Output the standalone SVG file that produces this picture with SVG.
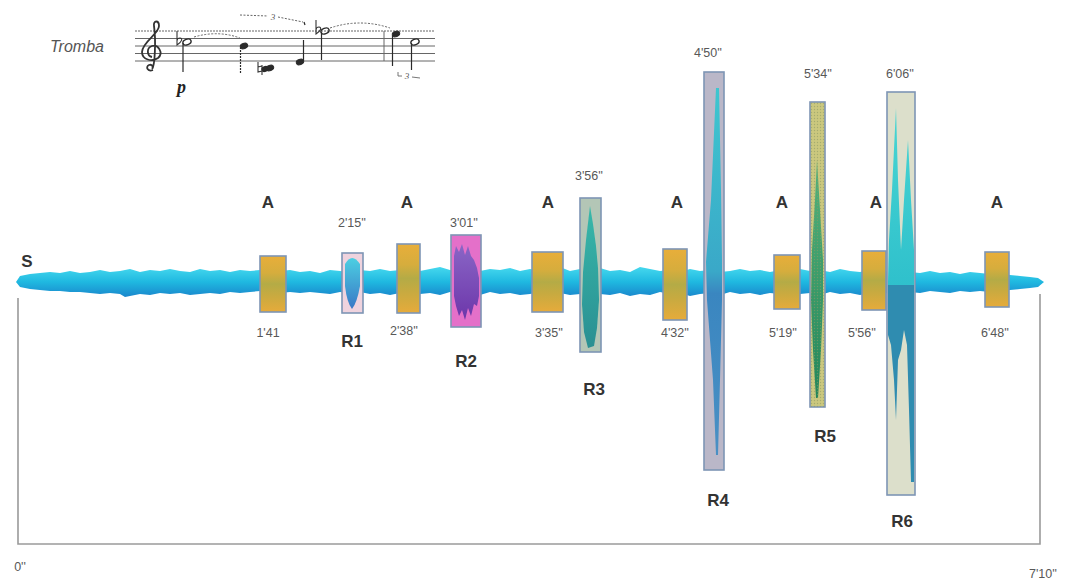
<svg xmlns="http://www.w3.org/2000/svg" width="1065" height="579" viewBox="0 0 1065 579">
  <defs>
    <style>
      .lbl { font-family: "Liberation Sans", Arial, sans-serif; font-weight: bold; font-size: 17px; fill: #333; text-anchor: middle; }
      .time { font-family: "Liberation Sans", Arial, sans-serif; font-size: 12.5px; fill: #585858; text-anchor: middle; }
      .box { stroke: #7e95b5; stroke-width: 1.6; }
      .staff { stroke: #666; stroke-width: 1; fill: none; }
      .ink { fill: #2a2a2a; stroke: #2a2a2a; }
      .stem { stroke: #2a2a2a; stroke-width: 1.2; }
      .slur { stroke: #666; stroke-width: 1; fill: none; stroke-dasharray: 2 1.5; }
      .axis { stroke: #9a9a9a; stroke-width: 1.6; fill: none; }
      .acc { fill: none; stroke: #333; stroke-width: 1.1; }
    </style>
    <linearGradient id="wave" x1="0" y1="0" x2="0" y2="1">
      <stop offset="0" stop-color="#45d8ee"/>
      <stop offset="0.5" stop-color="#1fb8e0"/>
      <stop offset="1" stop-color="#1a86cc"/>
    </linearGradient>
    <linearGradient id="gold" x1="0" y1="0" x2="0" y2="1">
      <stop offset="0" stop-color="#e8ae3a"/>
      <stop offset="0.3" stop-color="#d6ad3d"/>
      <stop offset="0.5" stop-color="#b4ab46"/>
      <stop offset="0.7" stop-color="#c8aa40"/>
      <stop offset="1" stop-color="#e6ab3b"/>
    </linearGradient>
    <linearGradient id="r1blob" x1="0" y1="0" x2="0" y2="1">
      <stop offset="0" stop-color="#4ccfe2"/>
      <stop offset="1" stop-color="#3a78c6"/>
    </linearGradient>
    <linearGradient id="r2blob" x1="0" y1="0" x2="0" y2="1">
      <stop offset="0" stop-color="#8a66c6"/>
      <stop offset="1" stop-color="#6c36aa"/>
    </linearGradient>
    <linearGradient id="r3blob" x1="0" y1="0" x2="0" y2="1">
      <stop offset="0" stop-color="#38b8aa"/>
      <stop offset="1" stop-color="#2a8f92"/>
    </linearGradient>
    <linearGradient id="r4blob" x1="0" y1="0" x2="0" y2="1">
      <stop offset="0" stop-color="#3ec6cf"/>
      <stop offset="0.5" stop-color="#3aa8c8"/>
      <stop offset="0.56" stop-color="#3a86c0"/>
      <stop offset="1" stop-color="#4a90c4"/>
    </linearGradient>
    <linearGradient id="r5blob" x1="0" y1="0" x2="0" y2="1">
      <stop offset="0" stop-color="#54b27a"/>
      <stop offset="1" stop-color="#23865a"/>
    </linearGradient>
    <linearGradient id="r6top" x1="0" y1="0" x2="0" y2="1">
      <stop offset="0" stop-color="#48d6d2"/>
      <stop offset="1" stop-color="#2fc0cc"/>
    </linearGradient>
    <pattern id="dots" width="3" height="3" patternUnits="userSpaceOnUse">
      <circle cx="1.5" cy="1.5" r="0.7" fill="#8e9a66" fill-opacity="0.6"/>
    </pattern>
  </defs>

  <rect width="1065" height="579" fill="#ffffff"/>

  <!-- Score excerpt -->
  <g id="score">
    <text x="50" y="52" font-family="Liberation Sans, Arial, sans-serif" font-style="italic" font-size="16" fill="#555">Tromba</text>
    <line class="staff" x1="135" y1="31" x2="435" y2="31" stroke-dasharray="2 1"/>
    <line class="staff" x1="135" y1="38.5" x2="435" y2="38.5"/>
    <line class="staff" x1="135" y1="46" x2="435" y2="46"/>
    <line class="staff" x1="135" y1="53.5" x2="435" y2="53.5"/>
    <line class="staff" x1="135" y1="61" x2="435" y2="61"/>
    <!-- treble clef -->
    <path d="M153,70 C148,72 145,67 149,65 C152,64 154,67 152,69 M152,69 C155,66 156,40 154,26 C153,20 159,20 159,26 C159,34 142,42 142,52 C142,60 152,62 158,58 C164,53 158,44 152,46 C146,48 147,56 152,57" fill="none" stroke="#333" stroke-width="1.8"/>
    <!-- bar 1 -->
    <path class="acc" d="M177,31 L177,45 C182,42 183,38 180,38 C178,38 177,40 177,41"/>
    <ellipse cx="187" cy="42" rx="4.2" ry="2.8" transform="rotate(-20 187 42)" fill="none" stroke="#2a2a2a" stroke-width="1.4"/>
    <line class="stem" x1="183" y1="43" x2="183" y2="72"/>
    <text x="177" y="93" font-family="Liberation Serif, serif" font-style="italic" font-weight="bold" font-size="18" fill="#222">p</text>
    <path class="slur" d="M194,37 Q218,30 240,38"/>
    <ellipse cx="244" cy="46" rx="3.8" ry="2.6" transform="rotate(-20 244 46)" class="ink"/>
    <line class="stem" x1="240.5" y1="47" x2="240.5" y2="73" stroke-dasharray="2 1"/>
    <path class="acc" d="M258,62 L258,72 L262,71 M262,65 L262,75 M258,67 L262,66"/>
    <ellipse cx="270" cy="68" rx="3.8" ry="2.6" transform="rotate(-20 270 68)" class="ink"/>
    <ellipse cx="265" cy="69" rx="3.2" ry="2.4" transform="rotate(-20 265 69)" class="ink"/>
    <ellipse cx="300" cy="62" rx="3.8" ry="2.6" transform="rotate(-20 300 62)" class="ink"/>
    <line class="stem" x1="303.5" y1="61" x2="303.5" y2="40"/>
    <path class="slur" d="M240,15 L268,16 M278,17 L303,22"/>
    <text x="273" y="20" font-family="Liberation Serif, serif" font-style="italic" font-size="9" fill="#555" text-anchor="middle">3</text>
    <line class="stem" x1="304" y1="22" x2="305" y2="25"/>
    <!-- bar 2 -->
    <path class="acc" d="M316,20 L316,34 C321,31 322,27 319,27 C317,27 316,29 316,30"/>
    <ellipse cx="325" cy="31" rx="4.2" ry="2.8" transform="rotate(-20 325 31)" fill="none" stroke="#2a2a2a" stroke-width="1.4"/>
    <line class="stem" x1="321.5" y1="32" x2="321.5" y2="60"/>
    <path class="slur" d="M330,28 Q360,18 390,28"/>
    <line x1="384" y1="31" x2="384" y2="61" stroke="#666" stroke-width="1"/>
    <!-- bar 3 -->
    <ellipse cx="396" cy="34" rx="3.8" ry="2.6" transform="rotate(-20 396 34)" class="ink"/>
    <line class="stem" x1="392.5" y1="35" x2="392.5" y2="66"/>
    <ellipse cx="415" cy="42" rx="4.2" ry="2.8" transform="rotate(-20 415 42)" fill="none" stroke="#2a2a2a" stroke-width="1.4"/>
    <line class="stem" x1="411.5" y1="43" x2="411.5" y2="70"/>
    <path d="M398,72 L398,76 L402,76 M412,77 L420,78" fill="none" stroke="#666" stroke-width="0.9"/>
    <text x="407" y="79" font-family="Liberation Serif, serif" font-style="italic" font-size="9" fill="#555" text-anchor="middle">3</text>
  </g>

  <!-- Time axis bracket -->
  <g id="connectors">
    <path class="axis" d="M18,298 L18,544 L1040,544 L1040,294"/>
  </g>

  <!-- Sound wave -->
  <g id="wave-S">
    <path fill="url(#wave)" d="M16,282 L20,276 L30,274 L40,273 L50,272 L60,273 L70,271 L80,273 L90,272 L100,270 L110,272 L120,271 L130,269 L140,272 L150,270 L160,271 L170,269 L180,271 L190,272 L200,269 L210,271 L220,270 L230,272 L240,270 L250,271 L260,270 L270,272 L280,271 L290,270 L300,272 L310,271 L320,273 L330,270 L340,271 L350,272 L360,270 L370,271 L380,269 L390,271 L400,270 L410,268 L420,271 L430,269 L440,267 L450,270 L460,272 L470,270 L480,271 L490,269 L500,270 L510,268 L520,271 L530,269 L540,271 L550,270 L560,267 L570,271 L580,269 L590,270 L600,268 L610,271 L620,270 L630,272 L640,267 L650,269 L660,271 L670,270 L680,272 L690,269 L700,271 L710,270 L720,272 L730,271 L740,269 L750,271 L760,270 L770,272 L780,270 L790,271 L800,269 L810,271 L820,270 L830,272 L840,269 L850,271 L860,272 L870,270 L880,272 L890,271 L900,273 L910,272 L920,273 L930,271 L940,273 L950,272 L960,274 L970,272 L980,273 L990,274 L1000,273 L1010,275 L1020,276 L1030,277 L1038,278 L1044,282 L1038,287 L1030,288 L1020,289 L1010,290 L1000,291 L990,292 L980,291 L970,292 L960,291 L950,293 L940,292 L930,291 L920,293 L910,292 L900,293 L890,294 L880,292 L870,293 L860,295 L850,293 L840,294 L830,292 L820,295 L810,293 L800,294 L790,292 L780,294 L770,293 L760,295 L750,293 L740,294 L730,292 L720,295 L710,293 L700,294 L690,296 L680,293 L670,294 L660,292 L650,295 L640,294 L630,296 L620,293 L610,295 L600,294 L590,297 L580,294 L570,295 L560,293 L550,294 L540,292 L530,294 L520,295 L510,293 L500,294 L490,292 L480,295 L470,293 L460,294 L450,292 L440,295 L430,293 L420,294 L410,292 L400,293 L390,295 L380,293 L370,294 L360,292 L350,293 L340,292 L330,294 L320,293 L310,292 L300,293 L290,292 L280,293 L270,292 L260,291 L250,292 L240,293 L230,292 L220,294 L210,293 L200,294 L190,295 L180,293 L170,294 L160,293 L150,295 L140,294 L130,296 L125,297 L120,294 L110,293 L100,294 L90,293 L80,292 L70,292 L60,291 L50,291 L40,290 L30,289 L20,287 Z"/>
    <text class="lbl" x="27" y="267">S</text>
  </g>

  <!-- A sections -->
  <g id="A1">
    <rect class="box" x="260" y="256" width="26" height="56" fill="url(#gold)"/>
    <text class="lbl" x="268" y="208">A</text>
    <text class="time" x="268" y="337">1'41</text>
  </g>
  <g id="A2">
    <rect class="box" x="397" y="244" width="23" height="69" fill="url(#gold)"/>
    <text class="lbl" x="407" y="208">A</text>
    <text class="time" x="404" y="335">2'38''</text>
  </g>
  <g id="A3">
    <rect class="box" x="532" y="252" width="31" height="60" fill="url(#gold)"/>
    <text class="lbl" x="548" y="208">A</text>
    <text class="time" x="549" y="337">3'35''</text>
  </g>
  <g id="A4">
    <rect class="box" x="663" y="249" width="24" height="71" fill="url(#gold)"/>
    <text class="lbl" x="677" y="208">A</text>
    <text class="time" x="675" y="337">4'32''</text>
  </g>
  <g id="A5">
    <rect class="box" x="774" y="255" width="26" height="54" fill="url(#gold)"/>
    <text class="lbl" x="782" y="208">A</text>
    <text class="time" x="783" y="337">5'19''</text>
  </g>
  <g id="A6">
    <rect class="box" x="862" y="251" width="24" height="59" fill="url(#gold)"/>
    <text class="lbl" x="876" y="208">A</text>
    <text class="time" x="862" y="337">5'56''</text>
  </g>
  <g id="A7">
    <rect class="box" x="985" y="252" width="24" height="55" fill="url(#gold)"/>
    <text class="lbl" x="997" y="208">A</text>
    <text class="time" x="995" y="337">6'48''</text>
  </g>

  <!-- R sections -->
  <g id="R1">
    <rect class="box" x="342" y="253" width="21" height="60" fill="#efd3de"/>
    <path fill="url(#r1blob)" d="M345,264 Q352,252 360,264 L360,286 Q357,303 352,309 Q347,303 345,286 Z"/>
    <text class="time" x="352" y="227">2'15''</text>
    <text class="lbl" x="352" y="347">R1</text>
  </g>
  <g id="R2">
    <rect class="box" x="451" y="235" width="30" height="92" fill="#e470c9"/>
    <path fill="url(#r2blob)" d="M454,256 L456,246 L459,252 L462,244 L465,255 L468,246 L471,256 L474,260 L477,268 L479,278 L479,296 L477,306 L474,304 L471,316 L468,308 L465,320 L462,310 L459,316 L456,306 L454,296 Z"/>
    <text class="time" x="464" y="227">3'01''</text>
    <text class="lbl" x="466" y="367">R2</text>
  </g>
  <g id="R3">
    <rect class="box" x="580" y="198" width="21" height="154" fill="#b3c6b6"/>
    <path fill="url(#r3blob)" d="M590,206 L593,224 L596,246 L598,268 L599,300 L597,328 L594,346 L588,348 L584,332 L582,304 L583,272 L586,240 Z"/>
    <text class="time" x="589" y="180">3'56''</text>
    <text class="lbl" x="594" y="395">R3</text>
  </g>
  <g id="R4">
    <rect class="box" x="704" y="72" width="20" height="398" fill="#bab7c8"/>
    <path fill="url(#r4blob)" d="M716,88 L719,88 L721,190 L722,260 L722,300 L720,380 L718,455 L716,455 L713,380 L707,300 L706,262 L711,200 Z"/>
    <text class="time" x="708" y="57">4'50''</text>
    <text class="lbl" x="718" y="506">R4</text>
  </g>
  <g id="R5">
    <rect class="box" x="810" y="102" width="15" height="305" fill="#cbc87e"/>
    <path fill="url(#r5blob)" d="M817,160 L820,210 L823,260 L823,300 L821,350 L818,398 L816,398 L813,350 L811,300 L812,250 L815,200 Z"/>
    <rect x="810" y="102" width="15" height="305" fill="url(#dots)"/>
    <text class="time" x="818" y="78">5'34''</text>
    <text class="lbl" x="825" y="442">R5</text>
  </g>
  <g id="R6">
    <rect class="box" x="887" y="92" width="28" height="403" fill="#dcdfcb"/>
    <path fill="url(#r6top)" d="M888,282 L889,240 L892,190 L896,108 L898,180 L901,250 L904,200 L908,140 L911,200 L914,250 L914,286 L888,286 Z"/>
    <path fill="#2f8cb0" d="M888,285 L914,285 L914,482 L911,482 L909,410 L907,345 L904,330 L901,350 L898,360 L896,420 L894,380 L891,345 L888,335 Z"/>
    <text class="time" x="900" y="78">6'06''</text>
    <text class="lbl" x="902" y="527">R6</text>
  </g>

  <!-- Axis ends -->
  <g id="axis-labels">
    <text class="time" x="20" y="571" font-size="11">0''</text>
    <text class="time" x="1043" y="578" font-size="11">7'10''</text>
  </g>
</svg>
